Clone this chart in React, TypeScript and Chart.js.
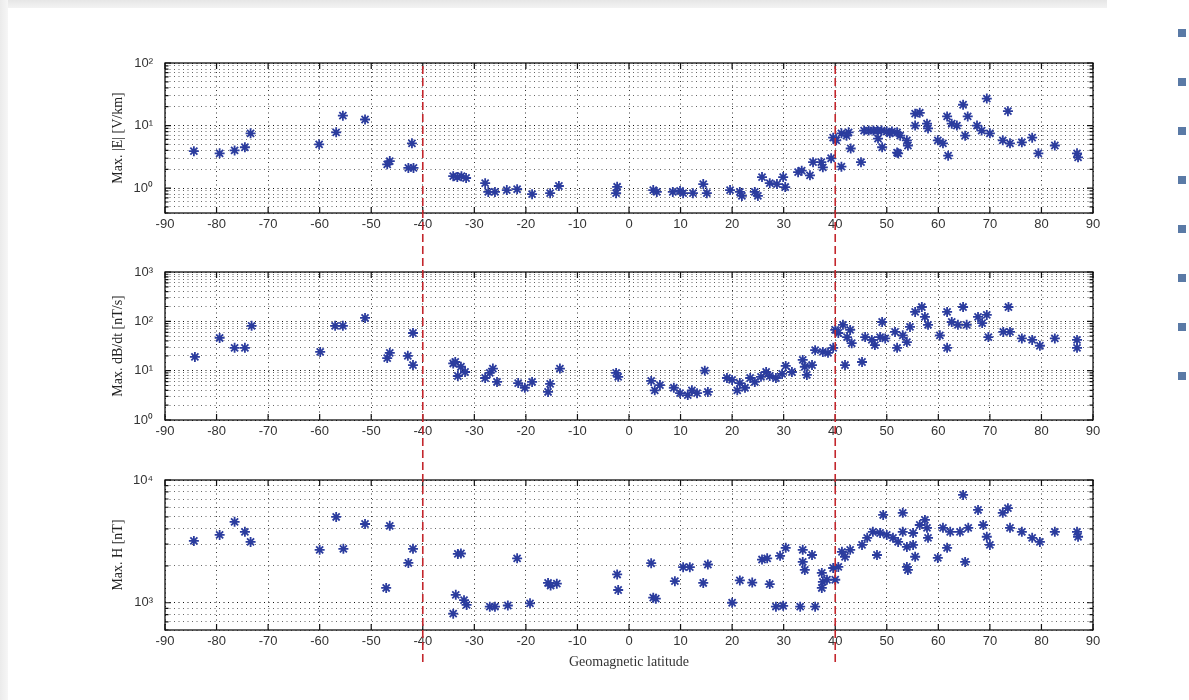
import { useEffect, useRef } from "react";
import { Chart, registerables } from "chart.js";

Chart.register(...registerables);

// ---------- data ----------
const xTickValues = [-90, -80, -70, -60, -50, -40, -30, -20, -10, 0, 10, 20, 30, 40, 50, 60, 70, 80, 90];
const boundaryLatitudes = [-40, 40];

const yTitleE = "Max. |E| [V/km]";
const yTitleDB = "Max. dB/dt [nT/s]";
const yTitleH = "Max. H [nT]";
const xTitle = "Geomagnetic latitude";

const latE = [
  -84.4, -79.4, -76.5, -74.5, -73.4, -60.1, -56.8, -55.5, -51.2, -46.9, -46.4, -42.1, -42.8, -41.8,
  -34.1, -33.3, -32.5, -31.6, -27.9, -27.3, -26.0, -23.7, -21.7, -18.8, -15.3, -13.6, -2.3, -2.5,
  4.7, 5.4, 8.5, 9.9, 10.5, 12.4, 14.4, 15.1, 19.6, 21.5, 21.9, 24.4, 25.0, 25.8, 27.3, 28.7, 29.9,
  30.3, 32.8, 33.5, 35.1, 35.7, 37.3, 37.6, 39.2, 39.6, 40.2, 41.2, 41.2, 42.2, 42.6, 43.0, 45.0,
  45.6, 46.5, 47.4, 48.2, 49.0, 50.0, 51.0, 52.0, 48.3, 49.1, 50.6, 52.0, 52.2, 52.6, 53.9, 54.1,
  55.5, 56.4, 55.5, 57.8, 58.0, 59.9, 60.9, 61.9, 61.7, 62.6, 63.6, 64.8, 65.2, 65.7, 67.5, 68.4,
  69.4, 70.0, 72.5, 73.5, 73.9, 76.2, 78.2, 79.4, 82.6, 86.9, 87.1,
];
const valE = [
  3.9, 3.6, 4.0, 4.5, 7.5, 5.0, 7.8, 14.4, 12.5, 2.4, 2.7, 5.2, 2.1, 2.1,
  1.55, 1.5, 1.55, 1.45, 1.2, 0.87, 0.87, 0.93, 0.96, 0.8, 0.83, 1.08, 1.05, 0.83,
  0.93, 0.87, 0.87, 0.9, 0.83, 0.83, 1.16, 0.83, 0.93, 0.87, 0.75, 0.87, 0.75, 1.5, 1.2, 1.16, 1.5,
  1.04, 1.8, 1.9, 1.6, 2.6, 2.6, 2.15, 3.0, 6.4, 5.8, 2.2, 7.5, 6.9, 7.8, 4.3, 2.6,
  8.3, 8.3, 8.3, 8.3, 8.3, 8.0, 8.0, 7.8, 6.2, 4.5, 7.5, 3.7, 3.6, 6.9, 5.8, 4.8,
  15.5, 16, 10, 10.7, 9, 5.8, 5.2, 3.3, 14, 10.7, 10, 21.5, 6.9, 14, 10, 8.3,
  27, 7.5, 5.8, 17, 5.2, 5.4, 6.4, 3.6, 4.8, 3.6, 3.1,
];

const latDB = [
  -84.2, -79.4, -76.5, -74.5, -73.2, -59.9, -57.0, -55.5, -51.2, -46.9, -46.4, -42.9, -41.9, -41.9,
  -34.1, -33.7, -33.2, -32.6, -31.8, -27.9, -27.0, -26.4, -25.6, -21.5, -20.2, -18.8, -15.7, -15.3,
  -13.4, -2.5, -2.1, 4.3, 5.0, 6.0, 8.7, 9.9, 11.4, 12.2, 13.2, 14.7, 15.3, 19.0, 20.0, 21.0, 21.5,
  22.5, 23.5, 24.4, 25.6, 26.6, 27.3, 28.5, 29.7, 30.4, 31.6, 33.7, 34.1, 34.5, 35.5, 36.1, 37.6,
  38.6, 39.6, 40.0, 40.6, 41.5, 42.3, 42.9, 43.2, 41.9, 45.2, 45.8, 47.1, 47.7, 48.7, 49.1, 49.7,
  51.6, 52.0, 53.1, 53.9, 54.5, 55.5, 56.8, 57.4, 58.0, 60.3, 61.7, 61.7, 62.6, 63.8, 64.8, 65.5,
  67.7, 68.5, 69.4, 69.7, 72.6, 73.6, 73.9, 76.2, 78.2, 79.7, 82.6, 86.9, 86.9,
];
const valDB = [
  19, 46, 29, 29, 81, 24, 81, 81, 117, 18, 23, 20, 58, 13,
  14, 15, 7.8, 12, 9.4, 7.1, 9, 11, 5.9, 5.6, 4.5, 5.9, 3.7, 5.4,
  11, 9, 7.5, 6.2, 4.0, 5.1, 4.5, 3.5, 3.2, 4.0, 3.5, 10, 3.7, 7.1, 6.5, 4.0, 5.6,
  4.5, 7.1, 5.9, 7.5, 9.4, 7.8, 7.1, 8.6, 12.5, 9.4, 16.5, 12, 8.2, 13, 26, 24,
  23, 29, 67, 58, 85, 48, 67, 36, 13, 15, 48, 42, 33, 48, 97, 45,
  61, 29, 52, 38, 77, 155, 195, 123, 85, 52, 29, 155, 97, 85, 195, 85,
  123, 92, 135, 48, 61, 195, 61, 45, 42, 32, 45, 42, 29,
];

const latH = [
  -84.4, -79.4, -76.5, -74.5, -73.4, -60.0, -56.8, -55.4, -51.2, -47.1, -46.4, -42.8, -41.9,
  -34.1, -33.6, -33.2, -32.6, -32.0, -31.5, -27.0, -26.0, -23.5, -21.7, -19.2, -15.7, -15.2, -14.0,
  -2.3, -2.1, 4.3, 4.7, 5.2, 8.9, 10.5, 11.8, 14.4, 15.3, 20.0, 21.5, 23.9, 25.8, 26.8, 27.3, 28.5,
  29.3, 29.9, 30.4, 33.2, 33.7, 33.7, 34.1, 35.5, 36.1, 37.4, 37.6, 37.4, 38.4, 39.6, 40.0, 40.6,
  41.3, 41.9, 42.9, 45.2, 46.2, 47.3, 48.1, 48.7, 49.3, 50.0, 51.2, 52.2, 53.1, 53.1, 53.9, 53.9,
  54.1, 55.1, 55.1, 55.5, 56.4, 57.4, 57.8, 58.0, 59.9, 60.9, 61.7, 62.3, 64.2, 64.8, 65.2, 65.8,
  67.7, 68.7, 69.4, 70.0, 72.5, 73.5, 73.9, 76.2, 78.2, 79.7, 82.6, 86.9, 87.1,
];
const valH = [
  3190, 3570, 4560, 3780, 3130, 2700, 5000, 2750, 4380, 1320, 4230, 2110, 2750,
  815, 1160, 2500, 2520, 1050, 960, 930, 930, 950, 2300, 990, 1450, 1380, 1430,
  1700, 1270, 2100, 1100, 1080, 1500, 1950, 1950, 1450, 2050, 1000, 1520, 1460, 2250, 2300, 1420, 930,
  2410, 945, 2800, 930, 2700, 2150, 1850, 2450, 930, 1750, 1480, 1320, 1540, 1920, 1540, 1960,
  2600, 2370, 2700, 2960, 3380, 3780, 2450, 3700, 5190, 3570, 3380, 3130, 5400, 3780, 2850, 1960,
  1850, 3700, 2960, 2370, 4300, 4730, 4080, 3380, 2320, 4080, 2800, 3780, 3780, 7560, 2150, 4080,
  5700, 4300, 3450, 2960, 5400, 5900, 4080, 3780, 3380, 3130, 3780, 3780, 3450,
];

// ---------- styling ----------
const BLUE = "#2b3c9e";
const RED = "#c3262c";
const TICK_FONT = { family: "'Liberation Sans Narrow','Liberation Sans',Arial,sans-serif", size: 13 };
const TITLE_FONT = { family: "'Liberation Serif','Times New Roman',serif", size: 14 };

const SUP: Record<string, string> = { "0": "⁰", "1": "¹", "2": "²", "3": "³", "4": "⁴", "5": "⁵", "6": "⁶", "-": "⁻" };
function isPow10(v: number) {
  const l = Math.log10(v);
  return Math.abs(l - Math.round(l)) < 1e-6;
}
function pow10Label(v: number) {
  const e = Math.round(Math.log10(v));
  return "10" + String(e).split("").map((c) => SUP[c] || c).join("");
}
function logTickValues(min: number, max: number) {
  const out: number[] = [];
  for (let e = Math.floor(Math.log10(min)); e <= Math.ceil(Math.log10(max)); e++) {
    for (let m = 1; m <= 9; m++) {
      const v = parseFloat((m * Math.pow(10, e)).toPrecision(6));
      if (v >= min * 0.999 && v <= max * 1.001) out.push(v);
    }
  }
  return out;
}

const boxPlugin = {
  id: "matlabBox",
  beforeDatasetsDraw(chart: any) {
    const { ctx, chartArea: a, scales } = chart;
    ctx.save();
    ctx.strokeStyle = "#111";
    ctx.lineWidth = 1.3;
    ctx.strokeRect(a.left, a.top, a.right - a.left, a.bottom - a.top);
    ctx.lineWidth = 1.2;
    ctx.beginPath();
    for (const v of xTickValues) {
      const px = scales.x.getPixelForValue(v);
      ctx.moveTo(px, a.bottom);
      ctx.lineTo(px, a.bottom - 6);
      ctx.moveTo(px, a.top);
      ctx.lineTo(px, a.top + 6);
    }
    for (const t of scales.y.ticks) {
      const py = scales.y.getPixelForValue(t.value);
      const len = isPow10(t.value) ? 6 : 3.5;
      ctx.moveTo(a.left, py);
      ctx.lineTo(a.left + len, py);
      ctx.moveTo(a.right, py);
      ctx.lineTo(a.right - len, py);
    }
    ctx.stroke();
    ctx.restore();
  },
};

type Panel = {
  top: number;
  height: number;
  padTop: number;
  padBottom: number;
  xAxisH: number;
  lats: number[];
  vals: number[];
  min: number;
  max: number;
  yTitle: string;
  xTitle?: string;
};

const panels: Panel[] = [
  { top: 40, height: 200, padTop: 23, padBottom: 0, xAxisH: 27, lats: latE, vals: valE, min: 0.4, max: 100, yTitle: yTitleE },
  { top: 250, height: 200, padTop: 22, padBottom: 3, xAxisH: 27, lats: latDB, vals: valDB, min: 1, max: 1000, yTitle: yTitleDB },
  { top: 460, height: 220, padTop: 20, padBottom: 5, xAxisH: 45, lats: latH, vals: valH, min: 600, max: 10000, yTitle: yTitleH, xTitle },
];

function panelConfig(p: Panel): any {
  const yTicks = logTickValues(p.min, p.max);
  return {
    type: "scatter",
    data: {
      datasets: [
        {
          data: p.lats.map((x, i) => ({ x, y: p.vals[i] })),
          pointStyle: "star",
          pointRadius: 5,
          pointHoverRadius: 5,
          pointBorderWidth: 1.8,
          borderColor: BLUE,
          backgroundColor: BLUE,
        },
      ],
    },
    options: {
      responsive: false,
      animation: false,
      events: [],
      layout: { padding: { left: 105, right: 96, top: p.padTop, bottom: p.padBottom } },
      plugins: { legend: { display: false }, tooltip: { enabled: false } },
      scales: {
        x: {
          type: "linear",
          min: -90,
          max: 90,
          afterBuildTicks: (s: any) => {
            s.ticks = xTickValues.map((v) => ({ value: v }));
          },
          afterFit: (s: any) => {
            s.height = p.xAxisH;
          },
          ticks: { autoSkip: false, maxRotation: 0, padding: 4, color: "#333", font: TICK_FONT, callback: (v: any) => String(v) },
          grid: { color: "#333", lineWidth: 1, drawTicks: false },
          border: { display: false, dash: [1, 3.5] },
          title: p.xTitle
            ? { display: true, text: p.xTitle, color: "#333", font: TITLE_FONT, padding: { top: 0, bottom: 4 } }
            : { display: false },
        },
        y: {
          type: "logarithmic",
          min: p.min,
          max: p.max,
          afterBuildTicks: (s: any) => {
            s.ticks = yTicks.map((v) => ({ value: v, major: false }));
          },
          afterFit: (s: any) => {
            s.width = 60;
          },
          ticks: {
            autoSkip: false,
            padding: 12,
            color: "#333",
            font: TICK_FONT,
            callback: (v: any) => (isPow10(Number(v)) ? pow10Label(Number(v)) : ""),
          },
          grid: {
            color: (c: any) => (c.tick && isPow10(c.tick.value) ? "#111" : "#666"),
            lineWidth: 1,
            drawTicks: false,
          },
          border: { display: false, dash: [1, 3.5] },
          title: { display: true, text: p.yTitle, color: "#222", font: TITLE_FONT, padding: { top: 5, bottom: 0 } },
        },
      },
    },
    plugins: [boxPlugin],
  };
}

function overlayConfig(): any {
  return {
    type: "scatter",
    data: {
      datasets: boundaryLatitudes.map((x) => ({
        data: [
          { x, y: 0 },
          { x, y: 1 },
        ],
        showLine: true,
        borderColor: RED,
        borderWidth: 1.6,
        borderDash: [8, 4],
        pointRadius: 0,
      })),
    },
    options: {
      responsive: false,
      animation: false,
      events: [],
      layout: { padding: { left: 165, right: 96, top: 65, bottom: 38 } },
      plugins: { legend: { display: false }, tooltip: { enabled: false } },
      scales: {
        x: { type: "linear", min: -90, max: 90, display: false },
        y: { type: "linear", min: 0, max: 1, display: false },
      },
    },
  };
}

const squareYs = [33, 82, 131, 180, 229, 278, 327, 376];

export default function App() {
  const r0 = useRef<HTMLCanvasElement>(null);
  const r1 = useRef<HTMLCanvasElement>(null);
  const r2 = useRef<HTMLCanvasElement>(null);
  const ro = useRef<HTMLCanvasElement>(null);

  useEffect(() => {
    const refs = [r0, r1, r2];
    const charts = panels.map((p, i) => new Chart(refs[i].current as HTMLCanvasElement, panelConfig(p)));
    charts.push(new Chart(ro.current as HTMLCanvasElement, overlayConfig()));
    return () => charts.forEach((c) => c.destroy());
  }, []);

  const refs = [r0, r1, r2];
  return (
    <div style={{ position: "absolute", left: 0, top: 0, width: 1189, height: 700, background: "#fff", overflow: "hidden" }}>
      <div style={{ position: "absolute", left: 0, top: 0, width: 1107, height: 8, background: "linear-gradient(#e6e6e6, #f3f3f3)" }} />
      <div style={{ position: "absolute", left: 0, top: 0, width: 8, height: 700, background: "linear-gradient(90deg, #ebebeb, #f6f6f6)" }} />
      {squareYs.map((y) => (
        <div key={y} style={{ position: "absolute", left: 1178, top: y - 4, width: 8, height: 8, background: "#5a7aa6" }} />
      ))}
      {panels.map((p, i) => (
        <canvas
          key={i}
          ref={refs[i]}
          width={1189}
          height={p.height}
          style={{ position: "absolute", left: 0, top: p.top, width: 1189, height: p.height }}
        />
      ))}
      <canvas ref={ro} width={1189} height={700} style={{ position: "absolute", left: 0, top: 0, width: 1189, height: 700, pointerEvents: "none" }} />
    </div>
  );
}
